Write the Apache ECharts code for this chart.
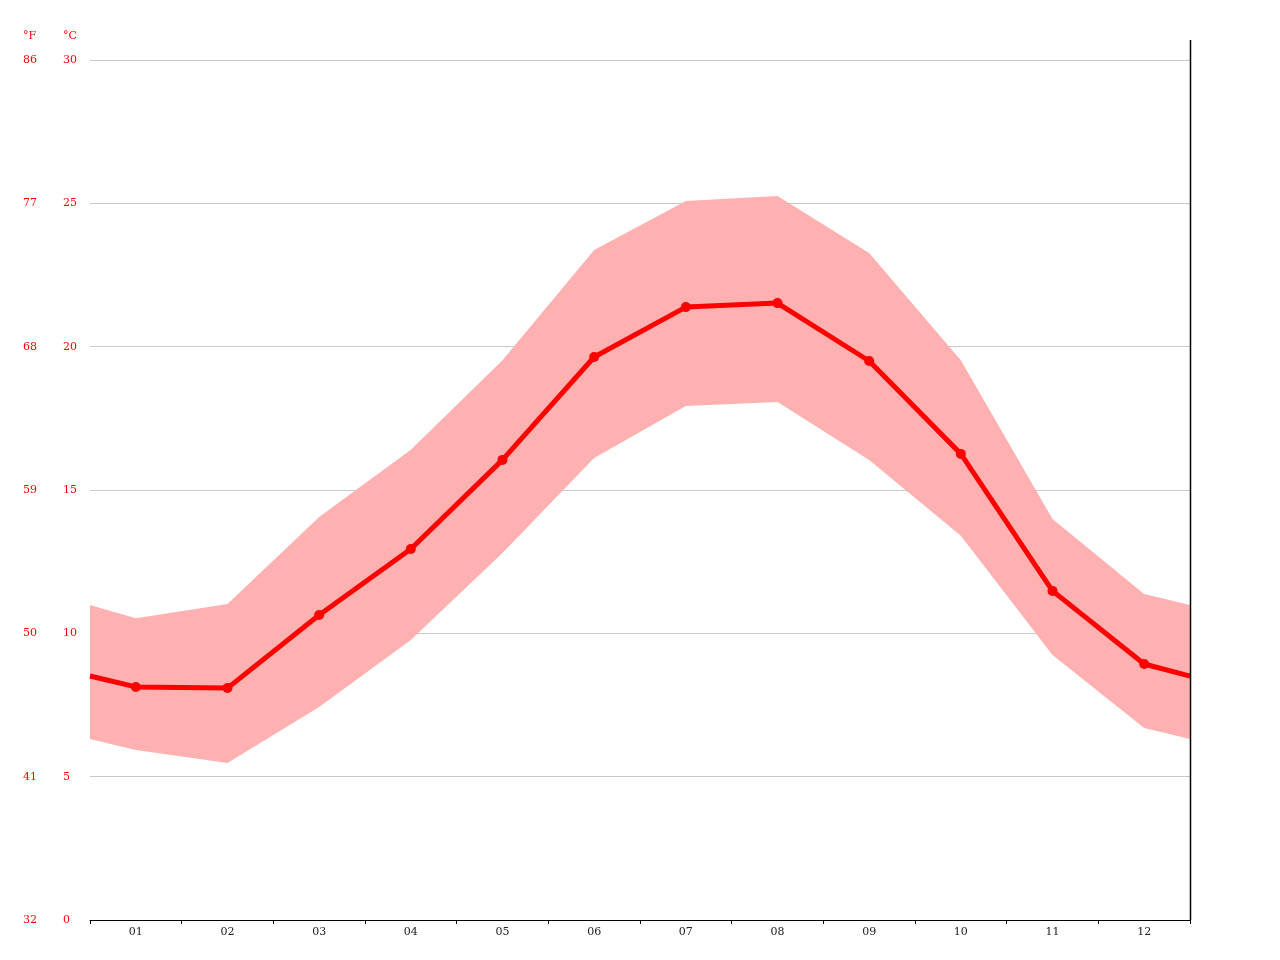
<!DOCTYPE html>
<html>
<head>
    <meta charset="utf-8">
    <title>Climate</title>
    <script src="https://cdn.jsdelivr.net/npm/echarts@6/dist/echarts.min.js"></script>
</head>
<body style="margin:0;background:#fff;">
    <div id="main" style="width:1280px;height:960px;"></div>
    <script type="text/javascript">
        // months on the category axis
        var months = ['01', '02', '03', '04', '05', '06', '07', '08', '09', '10', '11', '12'];
        // x positions on the hidden value axis (edges at 0.5 / 12.5)
        var xPos = [0.5, 1, 2, 3, 4, 5, 6, 7, 8, 9, 10, 11, 12, 12.5];
        // mean temperature, °C (edge values included)
        var meanTemp = [8.51, 8.13, 8.09, 10.64, 12.94, 16.05, 19.64, 21.38, 21.52, 19.50, 16.26, 11.48, 8.93, 8.51];
        // band: min and max temperature, °C
        var minTemp = [6.31, 5.93, 5.48, 7.43, 9.77, 12.80, 16.12, 17.93, 18.07, 16.05, 13.40, 9.24, 6.70, 6.31];
        var maxTemp = [10.99, 10.53, 11.02, 14.06, 16.40, 19.53, 23.37, 25.08, 25.26, 23.27, 19.53, 13.99, 11.37, 10.99];
        // tick labels
        var celsiusTicks = ['0', '5', '10', '15', '20', '25', '30'];
        var fahrenheitTicks = ['32', '41', '50', '59', '68', '77', '86'];

        var meanData = [];
        for (var i = 0; i < xPos.length; i++) {
            var edge = (i === 0 || i === xPos.length - 1);
            meanData.push({ value: [xPos[i], meanTemp[i]], symbol: edge ? 'none' : 'circle' });
        }

        // min/max band as one polygon, placed with the axes' own scales
        function renderBand(params, api) {
            var pts = [];
            for (var i = 0; i < xPos.length; i++) pts.push(api.coord([xPos[i], maxTemp[i]]));
            for (var j = xPos.length - 1; j >= 0; j--) pts.push(api.coord([xPos[j], minTemp[j]]));
            return {
                type: 'polygon',
                shape: { points: pts },
                style: { fill: '#ffb1b1' }
            };
        }

        var labelFont = 'DejaVu Serif';
        var myChart = echarts.init(document.getElementById('main'));
        var option = {
            animation: false,
            grid: { left: 90, right: 90, top: 60, bottom: 40 },
            xAxis: [{
                type: 'category',
                data: months,
                boundaryGap: true,
                axisLine: { lineStyle: { color: '#000', width: 1 } },
                axisTick: { show: true, length: 4, lineStyle: { color: '#000' } },
                axisLabel: { color: '#222', fontSize: 11, fontFamily: labelFont, margin: 7 },
                splitLine: { show: false }
            }, {
                type: 'value',
                min: 0.5,
                max: 12.5,
                show: false
            }],
            yAxis: [{
                type: 'value',
                min: 0, max: 30, interval: 5,
                position: 'left',
                offset: 27,
                name: '°C',
                nameLocation: 'end',
                nameGap: 18,
                nameTextStyle: { color: '#ff0000', fontSize: 11, fontFamily: labelFont, align: 'left' },
                axisLine: { show: false },
                axisTick: { show: false },
                axisLabel: {
                    color: '#ff0000', fontSize: 11, fontFamily: labelFont, align: 'left', margin: 0,
                    padding: [2, 0, 0, 0],
                    formatter: function (v) { return celsiusTicks[Math.round(v / 5)]; }
                },
                splitLine: { show: false }
            }, {
                type: 'value',
                min: 0, max: 30, interval: 5,
                position: 'left',
                offset: 67,
                name: '°F',
                nameLocation: 'end',
                nameGap: 18,
                nameTextStyle: { color: '#ff0000', fontSize: 11, fontFamily: labelFont, align: 'left' },
                axisLine: { show: false },
                axisTick: { show: false },
                axisLabel: {
                    color: '#ff0000', fontSize: 11, fontFamily: labelFont, align: 'left', margin: 0,
                    padding: [2, 0, 0, 0],
                    formatter: function (v) { return fahrenheitTicks[Math.round(v / 5)]; }
                },
                splitLine: { show: false }
            }, {
                // gridlines only
                type: 'value',
                min: 0, max: 30, interval: 5,
                position: 'right',
                axisLine: { show: false },
                axisTick: { show: false },
                axisLabel: { show: false },
                splitLine: { show: true, lineStyle: { color: '#c8c8c8', width: 1 } }
            }],
            graphic: [{
                type: 'line',
                shape: { x1: 1190.5, y1: 40, x2: 1190.5, y2: 920 },
                style: { stroke: '#000', lineWidth: 1.5 },
                z: 10
            }],
            series: [{
                type: 'custom',
                xAxisIndex: 1,
                yAxisIndex: 0,
                data: [[xPos[0], minTemp[0]]],
                renderItem: renderBand,
                silent: true,
                z: 1
            }, {
                type: 'line',
                xAxisIndex: 1,
                yAxisIndex: 0,
                data: meanData,
                symbol: 'circle',
                symbolSize: 10,
                itemStyle: { color: '#ff0000' },
                lineStyle: { color: '#ff0000', width: 5 },
                z: 5
            }]
        };
        myChart.setOption(option);
    </script>
</body>
</html>
